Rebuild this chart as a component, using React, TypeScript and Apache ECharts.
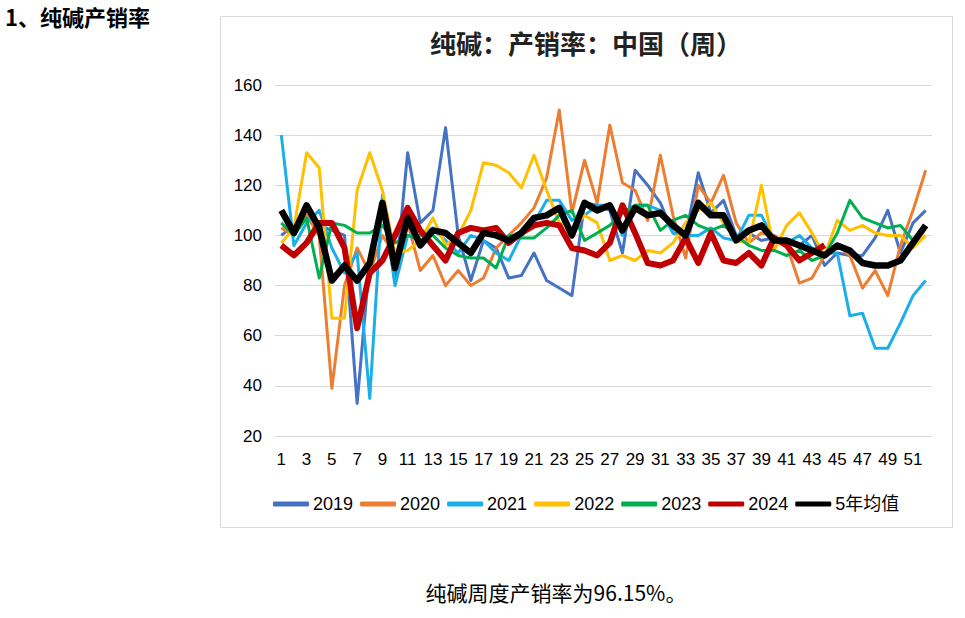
import React, { useEffect, useRef } from "react";
import * as echarts from "echarts";

const weeks: string[] = Array.from({ length: 52 }, (_, i) => String(i + 1));
const seriesNames = ["2019", "2020", "2021", "2022", "2023", "2024", "5年均值"];
const colors = ["#4472C4", "#ED7D31", "#1AAFE9", "#FFC000", "#00B050", "#C00000", "#000000"];

const y2019 = [100, 104, 108, 104, 102, 100, 33, 90, 112, 81, 133, 105, 110, 143, 100, 82, 98, 95, 83, 84, 93, 82, 79, 76, 113, 112, 110, 93, 126, 120, 113, 101, 100, 125, 109, 114, 100, 101, 98, 99, 98, 96, 100, 88, 93, 92, 92, 99, 110, 93, 105, 110];
const y2020 = [103, 100, 108, 100, 39, 80, 95, 85, 100, 92, 105, 86, 92, 80, 86, 80, 83, 95, 100, 105, 111, 123, 150, 109, 130, 113, 144, 121, 118, 106, 132, 108, 91, 120, 113, 124, 105, 97, 101, 100, 96, 81, 83, 92, 96, 92, 79, 86, 76, 96, 110, 126];
const y2021 = [140, 96, 105, 110, 95, 85, 93, 35, 116, 80, 100, 100, 103, 98, 93, 100, 98, 93, 90, 100, 105, 114, 114, 106, 108, 112, 112, 100, 112, 112, 110, 101, 100, 100, 103, 99, 98, 108, 108, 98, 97, 100, 95, 93, 93, 68, 69, 55, 55, 65, 76, 82];
const y2022 = [97, 103, 133, 127, 67, 67, 118, 133, 118, 93, 94, 98, 107, 96, 100, 110, 129, 128, 125, 119, 132, 118, 105, 103, 108, 105, 90, 92, 90, 94, 93, 97, 105, 110, 113, 105, 98, 97, 120, 94, 104, 109, 101, 92, 106, 102, 104, 101, 100, 100, 95, 100];
const y2023 = [105, 100, 107, 83, 105, 104, 101, 101, 104, 97, 100, 98, 100, 95, 92, 91, 91, 87, 100, 99, 99, 103, 108, 110, 98, 101, 104, 109, 112, 112, 102, 106, 108, 104, 102, 104, 100, 96, 94, 94, 92, 94, 90, 92, 101, 114, 107, 105, 103, 104, 98, null];
const y2024 = [96, 92, 97, 105, 105, 95, 63, 85, 90, 100, 111, 102, 96, 90, 101, 103, 102, 103, 97, 101, 104, 105, 104, 95, 94, 92, 97, 112, 101, 89, 88, 90, 99, 89, 101, 90, 89, 93, 88, 99, 96, 90, 93, 96.15];
const yAvg = [110, 101, 112, 103, 82, 88, 82, 89, 113, 87, 107, 96, 102, 101, 97, 93, 101, 100, 98, 101, 107, 108, 111, 100, 113, 110, 112, 102, 111, 108, 109, 104, 100, 113, 108, 108, 98, 102, 104, 98, 98, 96, 94, 92, 96, 94, 89, 88, 88, 90, 97, 104];

const allData = [y2019, y2020, y2021, y2022, y2023, y2024, yAvg];
const lineWidths = [3, 3, 3, 3, 3, 6, 6.5];

const pageTitle = "1、纯碱产销率";
const chartTitle = "纯碱：产销率：中国（周）";
const footer = "纯碱周度产销率为96.15%。";

const FONT = "'Liberation Sans', Arial, 'Noto Sans CJK SC', sans-serif";
const CJK = "'Noto Sans CJK SC', sans-serif";

export default function App() {
  const ref = useRef<HTMLDivElement>(null);
  useEffect(() => {
    if (!ref.current) return;
    const chart = echarts.init(ref.current, undefined, { renderer: "svg" });
    chart.setOption({
      animation: false,
      backgroundColor: "#ffffff",
      color: colors,
      graphic: [
        {
          type: "rect",
          shape: { x: 220.5, y: 16.5, width: 732, height: 511 },
          style: { fill: "none", stroke: "#d9d9d9", lineWidth: 1 },
          silent: true,
        },
        {
          type: "text",
          left: 5,
          top: 5,
          style: { text: pageTitle, font: `bold 22px ${CJK}`, fill: "#000" },
        },
        {
          type: "text",
          x: 586,
          y: 42,
          style: {
            text: chartTitle,
            font: `bold 26px ${CJK}`,
            fill: "#222",
            align: "center",
            verticalAlign: "middle",
          },
        },
        {
          type: "text",
          x: 556,
          y: 592,
          style: {
            text: footer,
            font: `21px ${CJK}`,
            fill: "#000",
            align: "center",
            verticalAlign: "middle",
          },
        },
      ],
      legend: {
        left: 268,
        top: 490,
        itemWidth: 36,
        itemHeight: 5,
        itemGap: 7,
        icon: "roundRect",
        textStyle: { fontSize: 18, color: "#000", fontFamily: FONT, padding: [0, 0, 0, -1] },
        data: seriesNames,
      },
      grid: { left: 275, top: 85, width: 657, height: 351 },
      xAxis: {
        type: "category",
        data: weeks,
        boundaryGap: true,
        axisLine: { show: false },
        axisTick: { show: false },
        axisLabel: {
          interval: 1,
          margin: 15,
          fontSize: 17,
          color: "#000",
          fontFamily: FONT,
        },
      },
      yAxis: {
        type: "value",
        min: 20,
        max: 160,
        interval: 20,
        axisLine: { show: false },
        axisTick: { show: false },
        axisLabel: { margin: 13, fontSize: 17, color: "#000", fontFamily: FONT },
        splitLine: { lineStyle: { color: "#d9d9d9", width: 1 } },
      },
      series: seriesNames.map((name, i) => ({
        name,
        type: "line",
        data: allData[i],
        symbol: "none",
        lineStyle: { width: lineWidths[i], color: colors[i], join: "round" },
        itemStyle: { color: colors[i] },
        connectNulls: false,
        z: i + 2,
      })),
    });
    return () => chart.dispose();
  }, []);
  return (
    <div
      ref={ref}
      style={{ position: "fixed", left: 0, top: 0, width: 965, height: 618, background: "#fff" }}
    />
  );
}
